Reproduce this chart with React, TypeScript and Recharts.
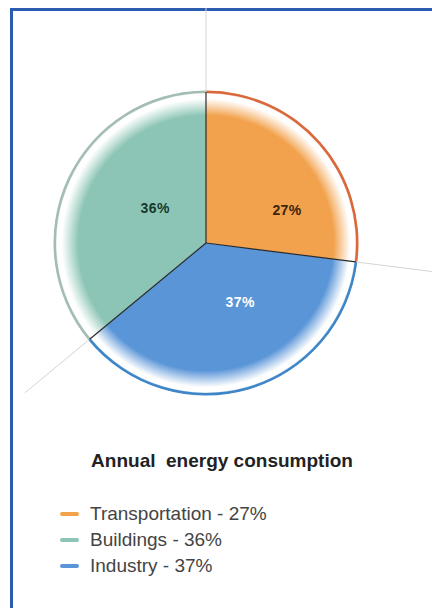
import React from 'react';
import { PieChart, Pie, Cell, Legend } from 'recharts';

const sectors = ['Transportation', 'Buildings', 'Industry'];
const shares = [27, 36, 37];
const sliceColors = ['#f2a24c', '#8cc5b5', '#5a95d8'];
const rimColors = ['#d9683a', '#a3bdb5', '#3f86c8'];
const labelColors = ['#3d2410', '#173a2e', '#ffffff'];

const data = sectors.map((name, i) => ({ name, value: shares[i] }));

const CX = 206;
const CY = 243;
const R = 152;
const RADIAN = Math.PI / 180;

// slices run counter-clockwise, so the first one ends exactly at 12 o'clock
const START = 90 - shares[0] * 3.6;
const END = START + 360;

// small per-slice shifts so the percent labels sit where they read best
const labelNudge = [
  [24, 17],
  [18, -3],
  [13, -14],
];

const renderLabel = (props: any) => {
  const { cx, cy, midAngle, outerRadius, index, value } = props;
  const r = outerRadius * 0.5;
  const x = cx + r * Math.cos(-midAngle * RADIAN) + labelNudge[index][0];
  const y = cy + r * Math.sin(-midAngle * RADIAN) + labelNudge[index][1];
  return (
    <text
      x={x}
      y={y}
      fill={labelColors[index]}
      textAnchor="middle"
      dominantBaseline="central"
      fontSize={14}
      fontWeight="bold"
      letterSpacing={0.4}
      fontFamily="'Liberation Sans', Arial, sans-serif"
    >
      {`${value}%`}
    </text>
  );
};

// radial divider: dark inside the pie, faint grey beyond the rim
const Divider = (props: any) => {
  const { cx, cy, startAngle, outerRadius } = props;
  const cos = Math.cos(-startAngle * RADIAN);
  const sin = Math.sin(-startAngle * RADIAN);
  const ext = 235;
  return (
    <g>
      <line
        x1={cx + outerRadius * cos}
        y1={cy + outerRadius * sin}
        x2={cx + ext * cos}
        y2={cy + ext * sin}
        stroke="#d4d4d4"
        strokeWidth={1}
      />
      <line x1={cx} y1={cy} x2={cx + outerRadius * cos} y2={cy + outerRadius * sin} stroke="#2b2b2b" strokeWidth={1.2} />
    </g>
  );
};

const LegendBlock = () => (
  <div style={{ fontFamily: "'Liberation Sans', Arial, sans-serif" }}>
    <div style={{ textAlign: 'center', fontWeight: 'bold', fontSize: 19, color: '#222', marginLeft: 12, whiteSpace: 'pre' }}>
      {'Annual  energy consumption'}
    </div>
    <div style={{ marginTop: 29, marginLeft: 60 }}>
      {sectors.map((name, i) => (
        <div key={name} style={{ display: 'flex', alignItems: 'center', height: 26 }}>
          <span
            style={{
              display: 'inline-block',
              width: 19,
              height: 4,
              borderRadius: 2,
              background: sliceColors[i],
              marginRight: 11,
            }}
          />
          <span style={{ fontSize: 19, color: '#444' }}>{`${name} - ${shares[i]}%`}</span>
        </div>
      ))}
    </div>
  </div>
);

export default function App() {
  return (
    <div style={{ position: 'absolute', left: 0, top: 0, width: 432, height: 608, background: '#fff' }}>
      <div
        style={{
          position: 'absolute',
          left: 10,
          top: 8,
          right: 0,
          bottom: 0,
          borderLeft: '3px solid #2b5cb0',
          borderTop: '3px solid #2b5cb0',
        }}
      />
      <PieChart
        width={432}
        height={608}
        margin={{ top: 0, right: 0, bottom: 0, left: 0 }}
        style={{ position: 'absolute', left: 0, top: 0 }}
      >
        <defs>
          {sliceColors.map((c, i) => (
            <radialGradient key={c} id={`glow-${i}`} gradientUnits="userSpaceOnUse" cx={CX} cy={CY} r={R}>
              <stop offset="0%" stopColor={c} />
              <stop offset="84%" stopColor={c} />
              <stop offset="95%" stopColor="#ffffff" stopOpacity={0.95} />
              <stop offset="98%" stopColor="#ffffff" />
              <stop offset="100%" stopColor={rimColors[i]} />
            </radialGradient>
          ))}
        </defs>
        <Pie
          data={data}
          dataKey="value"
          nameKey="name"
          cx={CX}
          cy={CY}
          outerRadius={R}
          startAngle={START}
          endAngle={END}
          stroke="none"
          labelLine={false}
          label={renderLabel}
          isAnimationActive={false}
          legendType="none"
        >
          {data.map((entry, i) => (
            <Cell key={entry.name} fill={`url(#glow-${i})`} />
          ))}
        </Pie>
        <Pie
          data={data}
          dataKey="value"
          cx={CX}
          cy={CY}
          innerRadius={R - 2}
          outerRadius={R + 0.5}
          startAngle={START}
          endAngle={END}
          stroke="none"
          isAnimationActive={false}
          legendType="none"
        >
          {data.map((entry, i) => (
            <Cell key={entry.name} fill={rimColors[i]} />
          ))}
        </Pie>
        <Pie
          data={data}
          dataKey="value"
          cx={CX}
          cy={CY}
          outerRadius={R - 1}
          startAngle={START}
          endAngle={END}
          shape={Divider}
          isAnimationActive={false}
          legendType="none"
        />
        <Legend
          content={LegendBlock}
          wrapperStyle={{ position: 'absolute', left: 0, top: 450, width: 432 }}
        />
      </PieChart>
    </div>
  );
}
